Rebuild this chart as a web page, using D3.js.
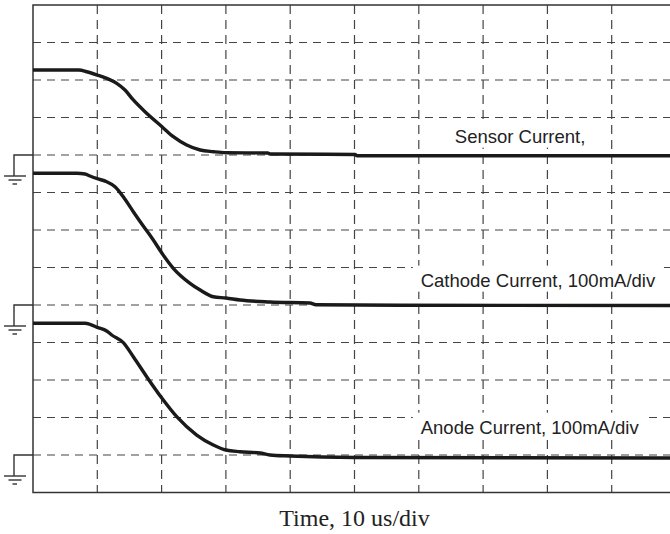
<!DOCTYPE html>
<head>
    <meta charset="utf-8" />
    <title>Sensor, cathode and anode current</title>
    <script src="https://d3js.org/d3.v7.min.js"></script>
    <style>
        body { margin: 0; background: #fff; }
        svg { display: block; }
    </style>
</head>
<body>
<svg width="670" height="534"></svg>
<script>
    // time in us (10 us/div), level in divisions above each trace's ground
    let sensorT   = [0, 7.15, 8.35, 10.0, 11.46, 13.02, 14.31, 15.6, 17.42, 20.06, 21.82, 23.9, 26.0, 28.04, 30.0, 36.5, 36.86, 50.08, 50.4, 100];
    let sensorV   = [2.267, 2.267, 2.22, 2.133, 2.045, 1.912, 1.733, 1.467, 1.155, 0.755, 0.488, 0.267, 0.133, 0.088, 0.061, 0.053, 0.027, 0.013, -0.019, -0.019];

    let cathodeT  = [0, 6.8, 8.09, 8.86, 10.0, 11.46, 12.75, 14.31, 15.6, 17.15, 18.71, 20.06, 21.82, 24.42, 26.0, 28.04, 30.0, 32.19, 36.86, 43.08, 44.01, 57.08, 100];
    let cathodeV  = [3.512, 3.512, 3.493, 3.44, 3.368, 3.288, 3.155, 2.819, 2.488, 2.107, 1.733, 1.379, 0.979, 0.579, 0.40, 0.221, 0.187, 0.133, 0.08, 0.053, 0.008, -0.008, -0.013];

    let anodeT    = [0, 8.09, 8.86, 10.0, 11.46, 12.24, 14.04, 15.6, 17.68, 20.06, 22.35, 25.46, 28.04, 30.0, 32.19, 35.3, 36.86, 39.97, 50.08, 100];
    let anodeV    = [3.512, 3.512, 3.485, 3.405, 3.307, 3.2, 2.995, 2.621, 2.088, 1.512, 1.021, 0.533, 0.267, 0.133, 0.088, 0.053, 0, -0.027, -0.067, -0.08];

    let traceNames  = ["Sensor Current,", "Cathode Current, 100mA/div", "Anode Current, 100mA/div"];
    let groundDivs  = [4, 8, 12];
    let labelDivs   = [3.67, 7.51, 11.43];   // label baseline, divisions from top
    let labelTimes  = [65.6, 60.3, 60.3];    // label left edge, us
    let xTitle      = "Time, 10 us/div";

    let svg = d3.select("svg");
    let pLeft = 33, pRight = 676, pTop = 5, pBottom = 492.5;

    let x = d3.scaleLinear().domain([0, 100]).range([pLeft, pRight]);
    let y = d3.scaleLinear().domain([0, 13]).range([pTop, pBottom]);

    // grid
    let grid = svg.append("g").attr("stroke", "#444").attr("stroke-width", 1.2).attr("fill", "none");
    grid.selectAll("line.v")
        .data(d3.range(10, 100, 10))
        .enter().append("line")
        .attr("class", "v")
        .attr("x1", d => x(d)).attr("x2", d => x(d))
        .attr("y1", pTop).attr("y2", pBottom)
        .attr("stroke-dasharray", "9,6");
    grid.selectAll("line.h")
        .data(d3.range(1, 13))
        .enter().append("line")
        .attr("class", "h")
        .attr("x1", pLeft).attr("x2", pRight)
        .attr("y1", d => y(d)).attr("y2", d => y(d))
        .attr("stroke-dasharray", "8,6");

    // frame
    svg.append("rect")
        .attr("x", pLeft).attr("y", pTop)
        .attr("width", pRight - pLeft).attr("height", pBottom - pTop)
        .attr("fill", "none").attr("stroke", "#333").attr("stroke-width", 1.5);

    // traces
    let series = [
        d3.zip(sensorT, sensorV),
        d3.zip(cathodeT, cathodeV),
        d3.zip(anodeT, anodeV)
    ];

    series.forEach(function (pts, i) {
        let line = d3.line()
            .x(d => x(d[0]))
            .y(d => y(groundDivs[i] - d[1]))
            .curve(d3.curveMonotoneX);
        svg.append("path")
            .attr("d", line(pts))
            .attr("fill", "none")
            .attr("stroke", "#1a1a1a")
            .attr("stroke-width", 3.4)
            .attr("stroke-linejoin", "round");
    });

    // labels with white boxes
    traceNames.forEach(function (name, i) {
        let g = svg.append("g");
        let bx = g.append("rect").attr("fill", "#fff");
        let t = g.append("text")
            .attr("x", x(labelTimes[i]))
            .attr("y", y(labelDivs[i]))
            .attr("font-family", "'Liberation Sans', Arial, Helvetica, sans-serif")
            .attr("font-size", 18.5)
            .attr("fill", "#222")
            .text(name);
        let b = t.node().getBBox();
        let base = y(labelDivs[i]);
        bx.attr("x", b.x - 8).attr("y", base - 21)
          .attr("width", b.width + 16).attr("height", 26);
    });

    // ground symbols
    let gnd = svg.append("g").attr("stroke", "#333").attr("stroke-width", 1.4).attr("fill", "none");
    groundDivs.forEach(function (d) {
        let yg = y(d);
        gnd.append("path").attr("d", "M" + pLeft + "," + yg + "H14V" + (yg + 21));
        gnd.append("line").attr("x1", 4).attr("x2", 26).attr("y1", yg + 21).attr("y2", yg + 21);
        gnd.append("line").attr("x1", 8.5).attr("x2", 21.5).attr("y1", yg + 25).attr("y2", yg + 25);
        gnd.append("line").attr("x1", 12.5).attr("x2", 17).attr("y1", yg + 29).attr("y2", yg + 29);
    });

    // x title
    svg.append("text")
        .attr("x", x(50))
        .attr("y", 526)
        .attr("text-anchor", "middle")
        .attr("font-family", "'Liberation Serif', 'Times New Roman', serif")
        .attr("font-size", 24)
        .attr("fill", "#222")
        .text(xTitle);
</script>
</body>
